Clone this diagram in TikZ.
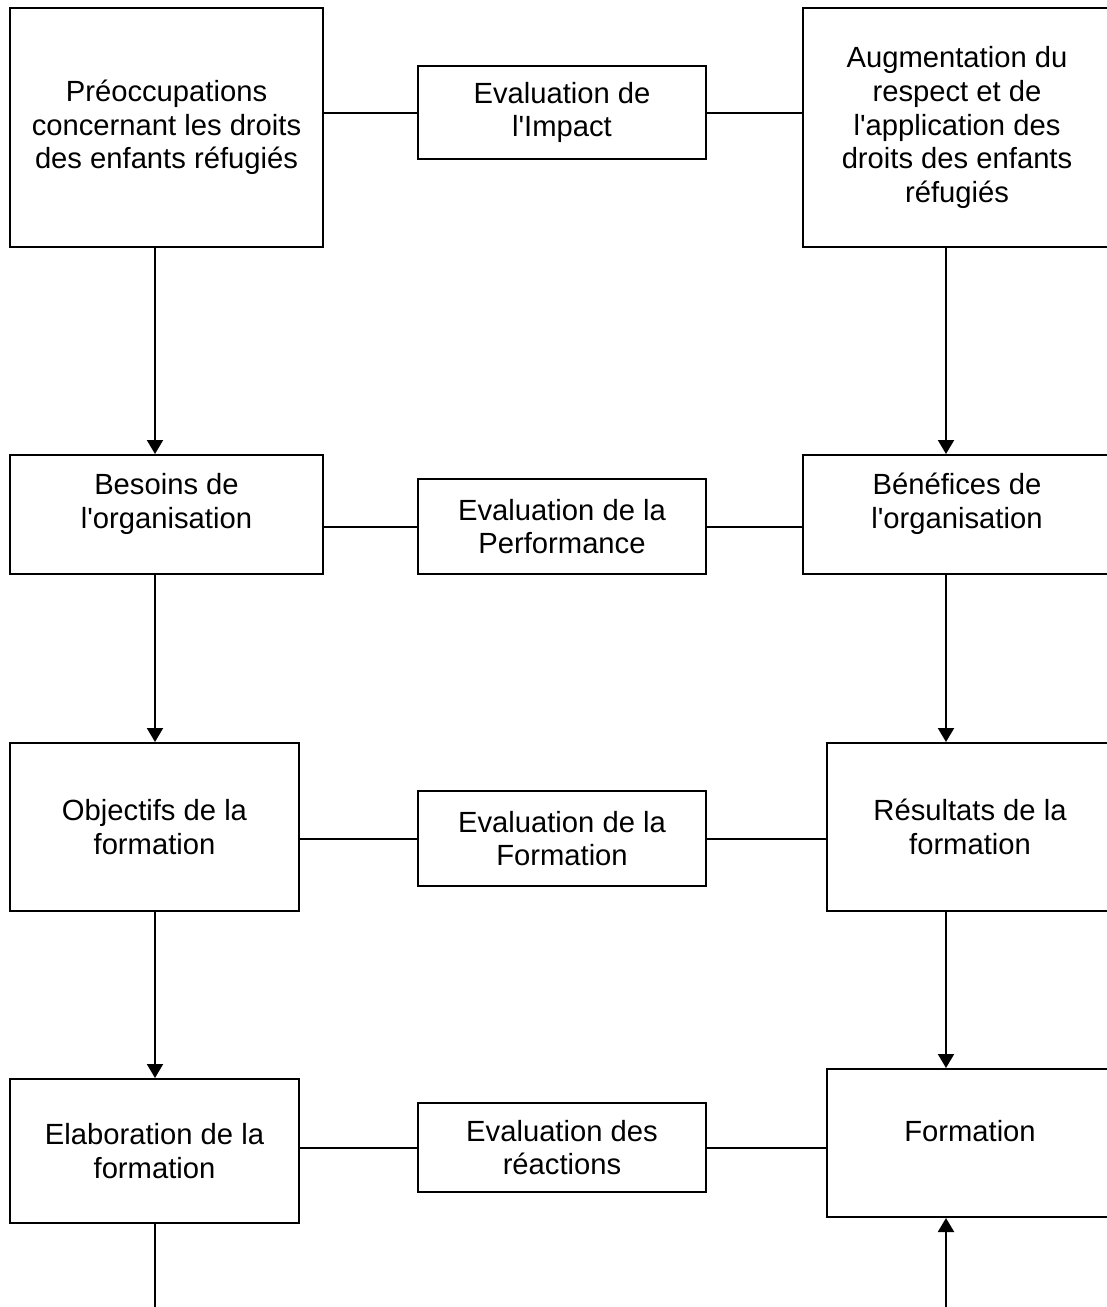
\documentclass[tikz,border=0pt]{standalone}
\usepackage{fontspec}
\setmainfont{Liberation Sans}
\usetikzlibrary{arrows.meta}

\newcommand{\ap}{\textquotesingle}

\begin{document}
\begin{tikzpicture}[x=0.5pt, y=-0.5pt,
  box/.style={draw, line width=1pt, align=center, inner sep=0pt,
    font=\fontsize{14.6}{16.8}\selectfont},
  arr/.style={-{Triangle[length=7pt,width=8pt]}, line width=1pt},
  link/.style={line width=1pt}]
  \useasboundingbox (0,0) rectangle (1107,1307);
  \clip (0,0) rectangle (1107,1307);

  % Define nodes
  \node[box, minimum width=156.5pt, minimum height=119.5pt] (concerns) at (166.5,127.5)
    {Préoccupations\\concernant les droits\\des enfants réfugiés};
  \node[box, minimum width=144pt, minimum height=46.5pt] (impact) at (562,112.5)
    {Evaluation de\\l\ap Impact};
  \node[box, minimum width=154pt, minimum height=119.5pt] (respect) at (957,127.5)
    {Augmentation du\\respect et de\\l\ap application des\\droits des enfants\\réfugiés};

  \node[box, minimum width=156.5pt, minimum height=59.5pt] (needs) at (166.5,514.5)
    {Besoins de\\l\ap organisation\\[-3pt]};
  \node[box, minimum width=144pt, minimum height=47.5pt] (perf) at (562,526.5)
    {Evaluation de la\\Performance};
  \node[box, minimum width=154pt, minimum height=59.5pt] (benefits) at (957,514.5)
    {Bénéfices de\\l\ap organisation\\[-3pt]};

  \node[box, minimum width=144.5pt, minimum height=84pt] (goals) at (154.5,827)
    {Objectifs de la\\formation};
  \node[box, minimum width=144pt, minimum height=47.5pt] (train) at (562,838.5)
    {Evaluation de la\\Formation};
  \node[box, minimum width=143pt, minimum height=84pt] (results) at (970,827)
    {Résultats de la\\formation};

  \node[box, minimum width=144.5pt, minimum height=72pt] (design) at (154.5,1151)
    {Elaboration de la\\formation};
  \node[box, minimum width=144pt, minimum height=44.5pt] (react) at (562,1147.5)
    {Evaluation des\\réactions};
  \node[box, minimum width=143pt, minimum height=74pt] (course) at (970,1143)
    {Formation\\[-5pt]};

  \coordinate (lcol) at (155,0);
  \coordinate (rcol) at (946,0);
  \coordinate (lend) at (155,1312);
  \coordinate (rend) at (946,1312);

  % Define edges
  \foreach \a/\b/\c in {concerns/impact/respect, needs/perf/benefits,
                        goals/train/results, design/react/course} {
    \draw[link] (\b.west) -- (\b.west -| \a.east);
    \draw[link] (\b.east) -- (\b.east -| \c.west);
  }
  \foreach \a/\b in {concerns/needs, needs/goals, goals/design}
    \draw[arr] (\a.south -| lcol) -- (\b.north -| lcol);
  \foreach \a/\b in {respect/benefits, benefits/results, results/course}
    \draw[arr] (\a.south -| rcol) -- (\b.north -| rcol);
  \draw[link] (design.south -| lcol) -- (lend);
  \draw[arr] (rend) -- (course.south -| rcol);
\end{tikzpicture}
\end{document}
